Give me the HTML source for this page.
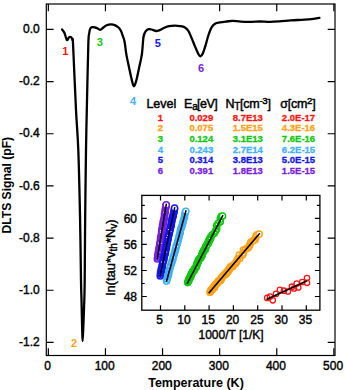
<!DOCTYPE html>
<html><head><meta charset="utf-8"><style>
html,body{margin:0;padding:0;background:#fff;}
svg{display:block;font-family:"Liberation Sans",sans-serif;}
.tl{font-size:12px;stroke:#000;stroke-width:0.4px;}
.ti{font-size:12.5px;font-weight:bold;}
.pk{font-size:11px;font-weight:bold;}
.th{font-size:12.5px;stroke:#000;stroke-width:0.45px;}
.tr text{font-size:9.5px;font-weight:bold;stroke-width:0.3px;}
.il{font-size:11.5px;stroke:#000;stroke-width:0.4px;}
</style></head><body>
<svg width="345" height="390" viewBox="0 0 345 390">
<rect x="46.3" y="4.0" width="288.7" height="351.5" fill="none" stroke="#000" stroke-width="1.2"/>
<path d="M46.3,29.40H53.60M335.0,29.40H327.70M46.3,81.57H53.60M335.0,81.57H327.70M46.3,133.74H53.60M335.0,133.74H327.70M46.3,185.91H53.60M335.0,185.91H327.70M46.3,238.08H53.60M335.0,238.08H327.70M46.3,290.25H53.60M335.0,290.25H327.70M46.3,342.42H53.60M335.0,342.42H327.70M48.35,355.5V348.20M48.35,4.0V11.30M105.45,355.5V348.20M105.45,4.0V11.30M162.55,355.5V348.20M162.55,4.0V11.30M219.65,355.5V348.20M219.65,4.0V11.30M276.75,355.5V348.20M276.75,4.0V11.30M333.85,355.5V348.20M333.85,4.0V11.30" stroke="#000" stroke-width="1.2" fill="none"/>
<text x="39.8" y="33.00" text-anchor="end" class="tl">0.0</text>
<text x="39.8" y="85.17" text-anchor="end" class="tl">-0.2</text>
<text x="39.8" y="137.34" text-anchor="end" class="tl">-0.4</text>
<text x="39.8" y="189.51" text-anchor="end" class="tl">-0.6</text>
<text x="39.8" y="241.68" text-anchor="end" class="tl">-0.8</text>
<text x="39.8" y="293.85" text-anchor="end" class="tl">-1.0</text>
<text x="39.8" y="346.02" text-anchor="end" class="tl">-1.2</text>
<text x="47.55" y="369.8" text-anchor="middle" class="tl">0</text>
<text x="104.65" y="369.8" text-anchor="middle" class="tl">100</text>
<text x="161.75" y="369.8" text-anchor="middle" class="tl">200</text>
<text x="218.85" y="369.8" text-anchor="middle" class="tl">300</text>
<text x="275.95" y="369.8" text-anchor="middle" class="tl">400</text>
<text x="333.05" y="369.8" text-anchor="middle" class="tl">500</text>
<text x="196" y="387.2" text-anchor="middle" class="ti">Temperature (K)</text>
<text transform="translate(11.2,185.2) rotate(-90)" text-anchor="middle" class="ti" style="font-size:12.1px">DLTS Signal (pF)</text>
<path d="M62.10,29.50 C62.48,30.05 63.73,31.38 64.40,32.80 C65.07,34.22 65.62,36.77 66.10,38.00 C66.58,39.23 66.82,40.30 67.30,40.20 C67.78,40.10 68.33,37.87 69.00,37.40 C69.67,36.93 70.72,36.92 71.30,37.40 C71.88,37.88 72.20,38.95 72.50,40.30 C72.80,41.65 72.52,33.88 73.10,45.50 C73.68,57.12 75.13,92.58 76.00,110.00 C76.87,127.42 77.63,132.50 78.30,150.00 C78.97,167.50 79.55,193.33 80.00,215.00 C80.45,236.67 80.75,265.83 81.00,280.00 C81.25,294.17 81.30,291.67 81.50,300.00 C81.70,308.33 82.02,323.17 82.20,330.00 C82.38,336.83 82.43,341.00 82.60,341.00 C82.77,341.00 82.92,336.83 83.20,330.00 C83.48,323.17 84.05,308.33 84.30,300.00 C84.55,291.67 84.55,294.17 84.70,280.00 C84.85,265.83 84.98,236.67 85.20,215.00 C85.42,193.33 85.73,167.50 86.00,150.00 C86.27,132.50 86.42,127.50 86.80,110.00 C87.18,92.50 87.92,57.68 88.30,45.00 C88.68,32.32 88.78,36.62 89.10,33.90 C89.42,31.18 89.68,29.82 90.20,28.70 C90.72,27.58 91.38,27.40 92.20,27.20 C93.02,27.00 94.25,27.32 95.10,27.50 C95.95,27.68 96.45,27.92 97.30,28.30 C98.15,28.68 99.23,29.88 100.20,29.80 C101.17,29.72 102.03,28.57 103.10,27.80 C104.17,27.03 105.25,25.78 106.60,25.20 C107.95,24.62 109.75,24.27 111.20,24.30 C112.65,24.33 114.03,24.82 115.30,25.40 C116.57,25.98 117.83,26.83 118.80,27.80 C119.77,28.77 120.43,29.85 121.10,31.20 C121.77,32.55 122.22,34.15 122.80,35.90 C123.38,37.65 124.02,38.67 124.60,41.70 C125.18,44.73 125.53,49.68 126.30,54.10 C127.07,58.52 128.25,63.73 129.20,68.20 C130.15,72.67 131.22,77.88 132.00,80.90 C132.78,83.92 133.20,86.30 133.90,86.30 C134.60,86.30 135.35,83.92 136.20,80.90 C137.05,77.88 138.05,72.67 139.00,68.20 C139.95,63.73 141.15,59.30 141.90,54.10 C142.65,48.90 142.85,40.82 143.50,37.00 C144.15,33.18 144.93,32.52 145.80,31.20 C146.67,29.88 147.73,29.38 148.70,29.10 C149.67,28.82 150.35,29.18 151.60,29.50 C152.85,29.82 154.85,30.90 156.20,31.00 C157.55,31.10 158.35,30.63 159.70,30.10 C161.05,29.57 162.75,28.45 164.30,27.80 C165.85,27.15 167.25,26.55 169.00,26.20 C170.75,25.85 172.97,25.72 174.80,25.70 C176.63,25.68 178.37,25.83 180.00,26.10 C181.63,26.37 183.18,26.45 184.60,27.30 C186.02,28.15 187.33,29.40 188.50,31.20 C189.67,33.00 190.45,35.40 191.60,38.10 C192.75,40.80 194.25,44.70 195.40,47.40 C196.55,50.10 197.65,52.82 198.50,54.30 C199.35,55.78 199.78,56.43 200.50,56.30 C201.22,56.17 201.98,55.25 202.80,53.50 C203.62,51.75 204.45,48.88 205.40,45.80 C206.35,42.72 207.47,38.08 208.50,35.00 C209.53,31.92 210.45,29.22 211.60,27.30 C212.75,25.38 214.00,24.32 215.40,23.50 C216.80,22.68 218.17,22.73 220.00,22.40 C221.83,22.07 224.27,21.77 226.40,21.50 C228.53,21.23 230.42,20.78 232.80,20.80 C235.18,20.82 237.52,21.43 240.70,21.60 C243.88,21.77 248.70,21.82 251.90,21.80 C255.10,21.78 256.88,21.48 259.90,21.50 C262.92,21.52 266.72,21.92 270.00,21.90 C273.28,21.88 276.15,21.65 279.60,21.40 C283.05,21.15 286.98,20.67 290.70,20.40 C294.42,20.13 298.43,20.00 301.90,19.80 C305.37,19.60 309.10,19.43 311.50,19.20 C313.90,18.97 314.98,18.62 316.30,18.40 C317.62,18.18 318.88,17.98 319.40,17.90" fill="none" stroke="#000" stroke-width="2.3" stroke-linejoin="round" stroke-linecap="round"/>
<text x="65.2" y="55.4" text-anchor="middle" class="pk" fill="#ff1414">1</text>
<text x="74.1" y="347.1" text-anchor="middle" class="pk" fill="#ffa214">2</text>
<text x="99.9" y="45.5" text-anchor="middle" class="pk" fill="#10c810">3</text>
<text x="133" y="105.1" text-anchor="middle" class="pk" fill="#3fb2f8">4</text>
<text x="157.7" y="46.5" text-anchor="middle" class="pk" fill="#1414f0">5</text>
<text x="201" y="72.4" text-anchor="middle" class="pk" fill="#781ee0">6</text>
<text x="146.4" y="107.7" class="th">Level</text>
<text x="184.0" y="107.7" class="th">E<tspan font-size="10" dy="2.7">a</tspan><tspan dy="-2.7" dx="-0.9" letter-spacing="-0.5">[eV]</tspan></text>
<text x="225.4" y="107.7" class="th" letter-spacing="-0.25">N<tspan font-size="10" dy="2.7">T</tspan><tspan dy="-2.7">[cm</tspan><tspan font-size="9.6" dy="-3.9">-3</tspan><tspan dy="3.9">]</tspan></text>
<text x="280.2" y="107.7" class="th" letter-spacing="-0.25">σ[cm<tspan font-size="9.6" dy="-3.9">2</tspan><tspan dy="3.9">]</tspan></text>
<g fill="#ff1414" stroke="#ff1414" class="tr"><text x="160.4" y="120.90" text-anchor="middle">1</text><text x="201.3" y="120.90" text-anchor="middle">0.029</text><text x="247.8" y="120.90" text-anchor="middle">8.7E13</text><text x="298.5" y="120.90" text-anchor="middle">2.0E-17</text></g>
<g fill="#ffa214" stroke="#ffa214" class="tr"><text x="160.4" y="131.48" text-anchor="middle">2</text><text x="201.3" y="131.48" text-anchor="middle">0.075</text><text x="247.8" y="131.48" text-anchor="middle">1.5E15</text><text x="298.5" y="131.48" text-anchor="middle">4.3E-16</text></g>
<g fill="#10c810" stroke="#10c810" class="tr"><text x="160.4" y="142.06" text-anchor="middle">3</text><text x="201.3" y="142.06" text-anchor="middle">0.124</text><text x="247.8" y="142.06" text-anchor="middle">3.1E13</text><text x="298.5" y="142.06" text-anchor="middle">7.6E-16</text></g>
<g fill="#3fb2f8" stroke="#3fb2f8" class="tr"><text x="160.4" y="152.64" text-anchor="middle">4</text><text x="201.3" y="152.64" text-anchor="middle">0.243</text><text x="247.8" y="152.64" text-anchor="middle">2.7E14</text><text x="298.5" y="152.64" text-anchor="middle">6.2E-15</text></g>
<g fill="#1414f0" stroke="#1414f0" class="tr"><text x="160.4" y="163.22" text-anchor="middle">5</text><text x="201.3" y="163.22" text-anchor="middle">0.314</text><text x="247.8" y="163.22" text-anchor="middle">3.8E13</text><text x="298.5" y="163.22" text-anchor="middle">5.0E-15</text></g>
<g fill="#781ee0" stroke="#781ee0" class="tr"><text x="160.4" y="173.80" text-anchor="middle">6</text><text x="201.3" y="173.80" text-anchor="middle">0.391</text><text x="247.8" y="173.80" text-anchor="middle">1.8E13</text><text x="298.5" y="173.80" text-anchor="middle">1.5E-15</text></g>
<rect x="141.8" y="195.4" width="178.09999999999997" height="114.79999999999998" fill="#fff" stroke="#000" stroke-width="1.3"/>
<path d="M160.50,310.2V305.2M160.50,195.4V200.4M184.80,310.2V305.2M184.80,195.4V200.4M209.10,310.2V305.2M209.10,195.4V200.4M233.40,310.2V305.2M233.40,195.4V200.4M257.70,310.2V305.2M257.70,195.4V200.4M282.00,310.2V305.2M282.00,195.4V200.4M306.30,310.2V305.2M306.30,195.4V200.4M141.8,296.52H146.8M319.9,296.52H314.9M141.8,283.50H144.8M319.9,283.50H316.9M141.8,270.48H146.8M319.9,270.48H314.9M141.8,257.46H144.8M319.9,257.46H316.9M141.8,244.44H146.8M319.9,244.44H314.9M141.8,231.42H144.8M319.9,231.42H316.9M141.8,218.40H146.8M319.9,218.40H314.9M141.8,205.38H144.8M319.9,205.38H316.9" stroke="#000" stroke-width="1.2" fill="none"/>
<text x="159.70" y="324.1" text-anchor="middle" class="tl">5</text>
<text x="184.00" y="324.1" text-anchor="middle" class="tl">10</text>
<text x="208.30" y="324.1" text-anchor="middle" class="tl">15</text>
<text x="232.60" y="324.1" text-anchor="middle" class="tl">20</text>
<text x="256.90" y="324.1" text-anchor="middle" class="tl">25</text>
<text x="281.20" y="324.1" text-anchor="middle" class="tl">30</text>
<text x="305.50" y="324.1" text-anchor="middle" class="tl">35</text>
<text x="137" y="300.72" text-anchor="end" class="tl">48</text>
<text x="137" y="274.68" text-anchor="end" class="tl">52</text>
<text x="137" y="248.64" text-anchor="end" class="tl">56</text>
<text x="137" y="222.60" text-anchor="end" class="tl">60</text>
<text x="231.1" y="339.1" text-anchor="middle" class="il" style="font-size:12px">1000/T [1/K]</text>
<text transform="translate(115.1,257.4) rotate(-90)" text-anchor="middle" class="il" style="font-size:13px">ln(tau*v<tspan font-size="10" dy="2.2">th</tspan><tspan dy="-2.2">*N</tspan><tspan font-size="10" dy="2.2">v</tspan><tspan dy="-2.2">)</tspan></text>
<g fill="none" stroke="#781ee0" stroke-width="1.5"><circle cx="157.40" cy="258.93" r="3.1"/><circle cx="157.78" cy="257.26" r="3.1"/><circle cx="157.76" cy="255.54" r="3.1"/><circle cx="158.38" cy="253.92" r="3.1"/><circle cx="158.38" cy="252.19" r="3.1"/><circle cx="158.76" cy="250.53" r="3.1"/><circle cx="159.22" cy="248.89" r="3.1"/><circle cx="159.23" cy="247.17" r="3.1"/><circle cx="159.78" cy="245.53" r="3.1"/><circle cx="159.82" cy="243.82" r="3.1"/><circle cx="160.31" cy="242.18" r="3.1"/><circle cx="160.58" cy="240.50" r="3.1"/><circle cx="160.65" cy="238.79" r="3.1"/><circle cx="160.69" cy="237.07" r="3.1"/><circle cx="161.39" cy="235.46" r="3.1"/><circle cx="161.60" cy="233.77" r="3.1"/><circle cx="161.64" cy="232.06" r="3.1"/><circle cx="161.73" cy="230.35" r="3.1"/><circle cx="162.22" cy="228.71" r="3.1"/><circle cx="162.60" cy="227.05" r="3.1"/><circle cx="162.54" cy="225.31" r="3.1"/><circle cx="163.36" cy="223.73" r="3.1"/><circle cx="163.16" cy="221.97" r="3.1"/><circle cx="163.77" cy="220.35" r="3.1"/><circle cx="164.13" cy="218.68" r="3.1"/><circle cx="164.43" cy="217.01" r="3.1"/><circle cx="164.59" cy="215.31" r="3.1"/><circle cx="164.56" cy="213.59" r="3.1"/><circle cx="165.22" cy="211.97" r="3.1"/><circle cx="165.26" cy="210.25" r="3.1"/><circle cx="165.50" cy="208.57" r="3.1"/><circle cx="165.93" cy="206.92" r="3.1"/><circle cx="166.10" cy="205.23" r="3.1"/></g>
<g fill="#fff"><circle cx="159.83" cy="252.20" r="0.55"/><circle cx="160.44" cy="230.64" r="0.55"/><circle cx="160.40" cy="232.18" r="0.55"/><circle cx="161.35" cy="243.18" r="0.55"/><circle cx="158.55" cy="242.94" r="0.55"/><circle cx="163.71" cy="212.27" r="0.55"/><circle cx="167.12" cy="207.58" r="0.55"/></g>
<circle cx="166.19" cy="204.88" r="3.1" fill="#fff" stroke="#781ee0" stroke-width="1.5"/>
<path d="M166.4,203.6L157.2,259.5" stroke="#000" stroke-width="1.55"/>
<g fill="none" stroke="#1414f0" stroke-width="1.5"><circle cx="160.32" cy="275.96" r="3.1"/><circle cx="160.57" cy="274.27" r="3.1"/><circle cx="160.58" cy="272.53" r="3.1"/><circle cx="161.24" cy="270.94" r="3.1"/><circle cx="161.27" cy="269.21" r="3.1"/><circle cx="162.15" cy="267.65" r="3.1"/><circle cx="162.22" cy="265.93" r="3.1"/><circle cx="162.44" cy="264.24" r="3.1"/><circle cx="162.78" cy="262.57" r="3.1"/><circle cx="163.41" cy="260.97" r="3.1"/><circle cx="163.76" cy="259.31" r="3.1"/><circle cx="164.03" cy="257.63" r="3.1"/><circle cx="164.21" cy="255.93" r="3.1"/><circle cx="164.99" cy="254.35" r="3.1"/><circle cx="165.33" cy="252.69" r="3.1"/><circle cx="165.59" cy="251.00" r="3.1"/><circle cx="165.69" cy="249.29" r="3.1"/><circle cx="166.42" cy="247.71" r="3.1"/><circle cx="166.38" cy="245.96" r="3.1"/><circle cx="166.98" cy="244.35" r="3.1"/><circle cx="167.18" cy="242.65" r="3.1"/><circle cx="167.48" cy="240.98" r="3.1"/><circle cx="167.97" cy="239.34" r="3.1"/><circle cx="168.16" cy="237.65" r="3.1"/><circle cx="168.42" cy="235.96" r="3.1"/><circle cx="169.09" cy="234.37" r="3.1"/><circle cx="169.10" cy="232.63" r="3.1"/><circle cx="169.80" cy="231.04" r="3.1"/><circle cx="170.00" cy="229.35" r="3.1"/><circle cx="170.43" cy="227.70" r="3.1"/><circle cx="170.94" cy="226.07" r="3.1"/><circle cx="171.26" cy="224.40" r="3.1"/><circle cx="171.35" cy="222.68" r="3.1"/><circle cx="171.90" cy="221.06" r="3.1"/><circle cx="171.95" cy="219.34" r="3.1"/><circle cx="172.55" cy="217.73" r="3.1"/><circle cx="173.10" cy="216.10" r="3.1"/><circle cx="173.32" cy="214.41" r="3.1"/><circle cx="173.75" cy="212.77" r="3.1"/><circle cx="174.19" cy="211.12" r="3.1"/><circle cx="174.37" cy="209.42" r="3.1"/></g>
<g fill="#fff"><circle cx="166.71" cy="237.45" r="0.55"/><circle cx="168.43" cy="229.46" r="0.55"/><circle cx="164.28" cy="262.10" r="0.55"/><circle cx="170.98" cy="231.53" r="0.55"/><circle cx="167.56" cy="235.18" r="0.55"/><circle cx="161.69" cy="261.88" r="0.55"/><circle cx="166.70" cy="252.05" r="0.55"/></g>
<circle cx="174.59" cy="208.18" r="3.1" fill="#fff" stroke="#1414f0" stroke-width="1.5"/>
<path d="M174.8,207.2L160,276.5" stroke="#000" stroke-width="1.55"/>
<g fill="none" stroke="#3fb2f8" stroke-width="1.5"><circle cx="166.55" cy="281.12" r="3.1"/><circle cx="167.10" cy="278.89" r="3.1"/><circle cx="167.68" cy="276.66" r="3.1"/><circle cx="168.65" cy="274.54" r="3.1"/><circle cx="168.78" cy="272.19" r="3.1"/><circle cx="169.46" cy="269.99" r="3.1"/><circle cx="170.01" cy="267.76" r="3.1"/><circle cx="170.67" cy="265.55" r="3.1"/><circle cx="171.52" cy="263.40" r="3.1"/><circle cx="172.12" cy="261.18" r="3.1"/><circle cx="172.91" cy="259.01" r="3.1"/><circle cx="173.21" cy="256.71" r="3.1"/><circle cx="174.15" cy="254.59" r="3.1"/><circle cx="174.76" cy="252.37" r="3.1"/><circle cx="175.29" cy="250.13" r="3.1"/><circle cx="175.93" cy="247.92" r="3.1"/><circle cx="176.44" cy="245.67" r="3.1"/><circle cx="177.22" cy="243.50" r="3.1"/><circle cx="177.86" cy="241.29" r="3.1"/><circle cx="178.38" cy="239.05" r="3.1"/><circle cx="179.02" cy="236.84" r="3.1"/><circle cx="179.48" cy="234.58" r="3.1"/><circle cx="180.29" cy="232.42" r="3.1"/><circle cx="180.41" cy="230.07" r="3.1"/><circle cx="181.18" cy="227.89" r="3.1"/><circle cx="182.06" cy="225.75" r="3.1"/><circle cx="182.61" cy="223.52" r="3.1"/><circle cx="183.16" cy="221.28" r="3.1"/><circle cx="183.77" cy="219.06" r="3.1"/><circle cx="184.52" cy="216.88" r="3.1"/><circle cx="184.71" cy="214.55" r="3.1"/><circle cx="185.24" cy="212.31" r="3.1"/></g>
<g fill="#fff"><circle cx="174.75" cy="246.71" r="0.55"/><circle cx="169.03" cy="266.64" r="0.55"/><circle cx="177.49" cy="246.62" r="0.55"/><circle cx="170.36" cy="262.93" r="0.55"/><circle cx="178.71" cy="242.64" r="0.55"/><circle cx="174.48" cy="257.86" r="0.55"/></g>
<circle cx="185.83" cy="211.26" r="3.1" fill="#fff" stroke="#3fb2f8" stroke-width="1.5"/>
<path d="M186.1,210.3L166.4,281.7" stroke="#000" stroke-width="1.55"/>
<g fill="none" stroke="#10c810" stroke-width="1.5"><circle cx="187.69" cy="282.55" r="3.1"/><circle cx="188.06" cy="281.62" r="3.1"/><circle cx="188.70" cy="280.82" r="3.1"/><circle cx="188.62" cy="279.66" r="3.1"/><circle cx="189.30" cy="278.88" r="3.1"/><circle cx="189.54" cy="277.88" r="3.1"/><circle cx="190.40" cy="277.20" r="3.1"/><circle cx="190.96" cy="276.37" r="3.1"/><circle cx="190.90" cy="275.21" r="3.1"/><circle cx="191.21" cy="274.24" r="3.1"/><circle cx="191.79" cy="273.42" r="3.1"/><circle cx="192.30" cy="272.55" r="3.1"/><circle cx="192.75" cy="271.66" r="3.1"/><circle cx="193.28" cy="270.81" r="3.1"/><circle cx="194.20" cy="270.16" r="3.1"/><circle cx="194.41" cy="269.14" r="3.1"/><circle cx="195.01" cy="268.33" r="3.1"/><circle cx="195.77" cy="267.59" r="3.1"/><circle cx="196.23" cy="266.71" r="3.1"/><circle cx="196.47" cy="265.71" r="3.1"/><circle cx="196.95" cy="264.83" r="3.1"/><circle cx="197.03" cy="263.74" r="3.1"/><circle cx="197.26" cy="262.73" r="3.1"/><circle cx="198.17" cy="262.08" r="3.1"/><circle cx="198.20" cy="260.97" r="3.1"/><circle cx="198.62" cy="260.06" r="3.1"/><circle cx="199.11" cy="259.19" r="3.1"/><circle cx="200.10" cy="258.58" r="3.1"/><circle cx="200.69" cy="257.76" r="3.1"/><circle cx="201.15" cy="256.87" r="3.1"/><circle cx="201.64" cy="255.99" r="3.1"/><circle cx="202.09" cy="255.10" r="3.1"/><circle cx="202.18" cy="254.02" r="3.1"/><circle cx="202.40" cy="253.01" r="3.1"/><circle cx="202.92" cy="252.15" r="3.1"/><circle cx="203.70" cy="251.43" r="3.1"/><circle cx="204.01" cy="250.46" r="3.1"/><circle cx="204.34" cy="249.51" r="3.1"/><circle cx="205.44" cy="248.96" r="3.1"/><circle cx="205.39" cy="247.80" r="3.1"/><circle cx="205.64" cy="246.80" r="3.1"/><circle cx="206.21" cy="245.97" r="3.1"/><circle cx="206.70" cy="245.10" r="3.1"/><circle cx="207.41" cy="244.34" r="3.1"/><circle cx="208.14" cy="243.59" r="3.1"/><circle cx="208.06" cy="242.43" r="3.1"/><circle cx="208.93" cy="241.75" r="3.1"/><circle cx="208.97" cy="240.65" r="3.1"/><circle cx="209.29" cy="239.68" r="3.1"/><circle cx="210.26" cy="239.06" r="3.1"/><circle cx="210.72" cy="238.17" r="3.1"/><circle cx="210.42" cy="237.24" r="3.1"/><circle cx="212.02" cy="235.15" r="3.1"/><circle cx="214.21" cy="233.36" r="3.1"/><circle cx="215.49" cy="231.09" r="3.1"/><circle cx="216.65" cy="228.76" r="3.1"/><circle cx="216.52" cy="225.76" r="3.1"/><circle cx="217.89" cy="223.55" r="3.1"/><circle cx="220.27" cy="221.86" r="3.1"/><circle cx="220.27" cy="218.92" r="3.1"/><circle cx="221.20" cy="216.47" r="3.1"/></g>
<g fill="#fff"><circle cx="209.42" cy="238.54" r="0.55"/><circle cx="208.03" cy="246.13" r="0.55"/><circle cx="221.50" cy="220.92" r="0.55"/><circle cx="217.71" cy="221.79" r="0.55"/><circle cx="196.97" cy="267.33" r="0.55"/></g>
<circle cx="222.54" cy="215.99" r="3.1" fill="#fff" stroke="#10c810" stroke-width="1.5"/>
<path d="M223,215.1L187,284" stroke="#000" stroke-width="1.55"/>
<g fill="none" stroke="#ffa214" stroke-width="1.5"><circle cx="210.04" cy="292.34" r="3.1"/><circle cx="210.45" cy="291.24" r="3.1"/><circle cx="210.88" cy="290.17" r="3.1"/><circle cx="212.06" cy="289.73" r="3.1"/><circle cx="212.54" cy="288.69" r="3.1"/><circle cx="212.95" cy="287.59" r="3.1"/><circle cx="214.48" cy="287.46" r="3.1"/><circle cx="214.47" cy="286.00" r="3.1"/><circle cx="215.02" cy="285.02" r="3.1"/><circle cx="215.98" cy="284.40" r="3.1"/><circle cx="216.53" cy="283.42" r="3.1"/><circle cx="217.57" cy="282.85" r="3.1"/><circle cx="217.95" cy="281.74" r="3.1"/><circle cx="218.61" cy="280.85" r="3.1"/><circle cx="220.12" cy="280.69" r="3.1"/><circle cx="220.81" cy="279.84" r="3.1"/><circle cx="221.14" cy="278.67" r="3.1"/><circle cx="221.46" cy="277.51" r="3.1"/><circle cx="222.28" cy="276.76" r="3.1"/><circle cx="223.17" cy="276.07" r="3.1"/><circle cx="223.71" cy="275.08" r="3.1"/><circle cx="225.09" cy="274.81" r="3.1"/><circle cx="225.81" cy="273.98" r="3.1"/><circle cx="226.01" cy="272.71" r="3.1"/><circle cx="227.26" cy="272.33" r="3.1"/><circle cx="228.04" cy="271.54" r="3.1"/><circle cx="228.09" cy="270.14" r="3.1"/><circle cx="228.96" cy="269.44" r="3.1"/><circle cx="229.73" cy="268.65" r="3.1"/><circle cx="230.13" cy="267.55" r="3.1"/><circle cx="230.73" cy="266.61" r="3.1"/><circle cx="232.52" cy="266.79" r="3.1"/><circle cx="233.65" cy="264.87" r="3.1"/><circle cx="235.40" cy="263.47" r="3.1"/><circle cx="236.71" cy="261.69" r="3.1"/><circle cx="237.38" cy="259.37" r="3.1"/><circle cx="239.71" cy="258.47" r="3.1"/><circle cx="239.29" cy="255.22" r="3.1"/><circle cx="242.49" cy="255.05" r="3.1"/><circle cx="243.35" cy="252.90" r="3.1"/><circle cx="243.40" cy="250.05" r="3.1"/><circle cx="245.61" cy="249.04" r="3.1"/><circle cx="247.90" cy="248.11" r="3.1"/><circle cx="249.16" cy="246.29" r="3.1"/><circle cx="250.10" cy="244.20" r="3.1"/><circle cx="250.89" cy="241.98" r="3.1"/><circle cx="252.95" cy="240.85" r="3.1"/><circle cx="254.93" cy="239.64" r="3.1"/><circle cx="255.77" cy="237.47" r="3.1"/><circle cx="256.44" cy="235.15" r="3.1"/></g>
<g fill="#fff"><circle cx="255.19" cy="241.05" r="0.55"/><circle cx="219.87" cy="282.18" r="0.55"/><circle cx="227.84" cy="272.86" r="0.55"/><circle cx="221.11" cy="276.43" r="0.55"/><circle cx="253.86" cy="242.69" r="0.55"/></g>
<circle cx="259.15" cy="234.06" r="3.1" fill="#fff" stroke="#ffa214" stroke-width="1.5"/>
<path d="M259.8,233.3L208.7,293.3" stroke="#000" stroke-width="1.55"/>
<g fill="none" stroke="#ff1414" stroke-width="1.3"><circle cx="267.20" cy="297.90" r="2.7"/><circle cx="272.80" cy="300.30" r="2.7"/><circle cx="270.00" cy="296.50" r="2.7"/><circle cx="276.00" cy="293.90" r="2.7"/><circle cx="279.90" cy="289.90" r="2.7"/><circle cx="283.90" cy="290.70" r="2.7"/><circle cx="287.90" cy="291.50" r="2.7"/><circle cx="291.90" cy="286.70" r="2.7"/><circle cx="294.00" cy="288.50" r="2.7"/><circle cx="296.70" cy="283.60" r="2.7"/><circle cx="298.30" cy="287.50" r="2.7"/><circle cx="302.30" cy="282.00" r="2.7"/><circle cx="307.00" cy="278.00" r="2.7"/><circle cx="307.00" cy="282.80" r="2.7"/></g>
<path d="M307,280.8L266.4,299.5" stroke="#000" stroke-width="1.55"/>
</svg></body></html>
